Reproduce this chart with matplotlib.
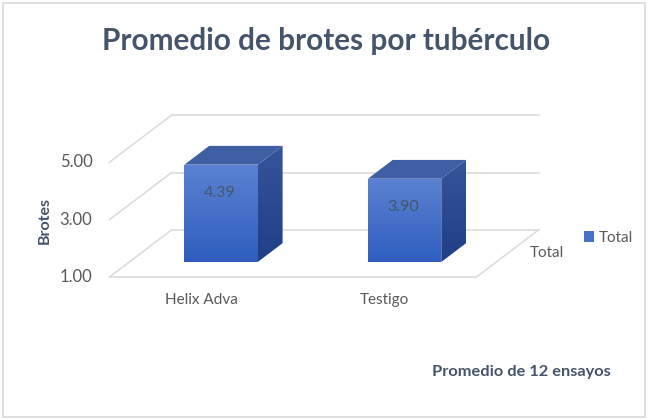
import matplotlib
matplotlib.use("Agg")
import matplotlib.pyplot as plt
import numpy as np
from matplotlib.patches import Polygon, Rectangle, Patch
from matplotlib.colors import LinearSegmentedColormap

# ---- data ----
categories = ["Helix Adva", "Testigo"]
values = [4.39, 3.90]
value_labels = ["4.39", "3.90"]
y_ticks = [1.0, 3.0, 5.0]
y_tick_labels = ["1.00", "3.00", "5.00"]
series_name = "Total"
title = "Promedio de brotes por tubérculo"
y_label = "Brotes"
footer = "Promedio de 12 ensayos"

W, H = 651, 420
fig = plt.figure(figsize=(W / 100, H / 100), dpi=100)
FONT = ["Lato", "DejaVu Sans"]

# pixel geometry of the plot area
X0, SX = 201.25, 183.5      # px of category 0 center, px per category
PY1, SY = 277.0, 28.7       # px of value 1 at front, px per value unit
DX = 62 / SX                # full depth shift in category units
DY = 47 / SY                # full depth shift in value units
BAR_W = 0.4
Z_FRONT, Z_BACK = 0.32, 0.72

ax_l, ax_r, ax_t, ax_b = 100, 575, 95, 295
ax = fig.add_axes([ax_l / W, 1 - ax_b / H, (ax_r - ax_l) / W, (ax_b - ax_t) / H])
ax.axis("off")

def P(x, v, z):
    return (x + z * DX, v + z * DY)

vmin, vmax = y_ticks[0], y_ticks[-1]
xl, xr = -0.5, len(categories) - 0.5
grid_c = "#d9d9d9"

# back wall gridlines and side wall diagonals
for t in y_ticks:
    a, b = P(xl, t, 1), P(xr, t, 1)
    ax.plot([a[0], b[0]], [a[1], b[1]], color=grid_c, lw=1.1, zorder=1)
    c = P(xl, t, 0)
    ax.plot([c[0], a[0]], [c[1], a[1]], color=grid_c, lw=1.1, zorder=1)
# floor
f1, f2, f3 = P(xl, vmin, 0), P(xr, vmin, 0), P(xr, vmin, 1)
ax.plot([f1[0], f2[0], f3[0]], [f1[1], f2[1], f3[1]], color=grid_c, lw=1.1, zorder=1)

front_cmap = LinearSegmentedColormap.from_list("f", ["#2f5ebf", "#5b82d2"])
side_cmap = LinearSegmentedColormap.from_list("s", ["#203f86", "#36549a"])
top_c = "#3f5ea3"
grad = np.linspace(0, 1, 100).reshape(-1, 1)

for i, (val, lab) in enumerate(zip(values, value_labels)):
    x1, x2 = i - BAR_W / 2, i + BAR_W / 2
    # front face
    fl = P(x1, vmin, Z_FRONT); fr = P(x2, val, Z_FRONT)
    front = Polygon([P(x1, vmin, Z_FRONT), P(x2, vmin, Z_FRONT), P(x2, val, Z_FRONT), P(x1, val, Z_FRONT)],
                    closed=True, facecolor="none", edgecolor="none", zorder=3)
    ax.add_patch(front)
    im = ax.imshow(grad, cmap=front_cmap, origin="lower", aspect="auto",
                   extent=[fl[0], fr[0], fl[1], fr[1]], zorder=3)
    im.set_clip_path(front)
    # side face
    side_pts = [P(x2, vmin, Z_FRONT), P(x2, vmin, Z_BACK), P(x2, val, Z_BACK), P(x2, val, Z_FRONT)]
    side = Polygon(side_pts, closed=True, facecolor="none", edgecolor="none", zorder=3)
    ax.add_patch(side)
    xs = [p[0] for p in side_pts]; ys = [p[1] for p in side_pts]
    im2 = ax.imshow(grad, cmap=side_cmap, origin="lower", aspect="auto",
                    extent=[min(xs), max(xs), min(ys), max(ys)], zorder=3)
    im2.set_clip_path(side)
    # top face
    top = Polygon([P(x1, val, Z_FRONT), P(x2, val, Z_FRONT), P(x2, val, Z_BACK), P(x1, val, Z_BACK)],
                  closed=True, facecolor=top_c, edgecolor="none", zorder=3)
    ax.add_patch(top)
    # value label
    lx, ly = P(i, val - 1.0, Z_FRONT)
    ax.text(lx - 0.01, ly, lab, ha="center", va="center", fontsize=11.5,
            color="#44546a", family=FONT, zorder=4)
    # category label
    ax.text(i, vmin - 0.8, categories[i], ha="center", va="center", fontsize=11,
            color="#595959", family=FONT, zorder=4)

ax.set_xlim((ax_l - X0) / SX, (ax_r - X0) / SX)
ax.set_ylim(1 + (PY1 - ax_b) / SY, 1 + (PY1 - ax_t) / SY)

# y tick labels
for t, lab in zip(y_ticks, y_tick_labels):
    ax.text(xl - 17 / SX, t, lab, ha="right", va="center", fontsize=12,
            color="#595959", family=FONT)

# depth axis label
fig.text(547 / W, 1 - 253 / H, series_name, ha="center", va="center", fontsize=11,
         color="#595959", family=FONT)

# y label
fig.text(45 / W, 1 - 220 / H, y_label, rotation=90, ha="center", va="center",
         fontsize=11.5, fontweight="bold", color="#44546a", family=FONT)

# title
fig.text(326 / W, 1 - 41 / H, title, ha="center", va="center", fontsize=21.4,
         fontweight="bold", color="#44546a", family=FONT)

# legend
fig.legend(handles=[Patch(facecolor="#4472c4", edgecolor="none")], labels=[series_name],
           loc="center left", bbox_to_anchor=(570 / W, 1 - 238 / H), frameon=False,
           handlelength=0.7, handleheight=0.7, handletextpad=0.3,
           prop={"family": FONT, "size": 11}, labelcolor="#595959")

# footer
fig.text(521 / W, 1 - 372 / H, footer, ha="center", va="center", fontsize=11.8,
         fontweight="bold", color="#44546a", family=FONT)

# border
fig.patches.append(Rectangle((3 / W, 3 / H), 642 / W, 414 / H, transform=fig.transFigure,
                             fill=False, edgecolor="#d9d9d9", lw=1.2))

fig.savefig("out.png", dpi=100)
